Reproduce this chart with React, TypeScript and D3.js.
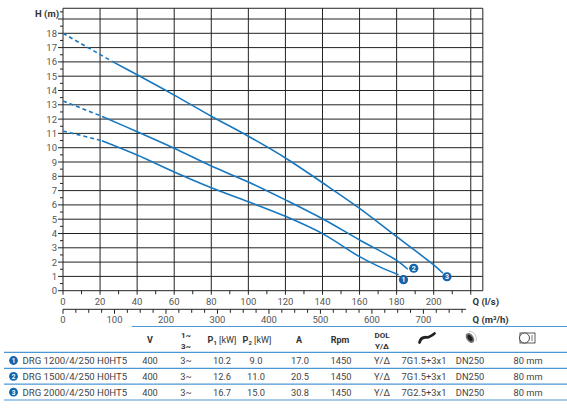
import { useEffect, useRef } from "react";
import * as d3 from "d3";

// ── chart data ─────────────────────────────────────────
const headTicks = [0, 1, 2, 3, 4, 5, 6, 7, 8, 9, 10, 11, 12, 13, 14, 15, 16, 17, 18];
const flowTicks = [0, 20, 40, 60, 80, 100, 120, 140, 160, 180, 200];
const m3hTicks = [0, 100, 200, 300, 400, 500, 600, 700];

const curve1Q = [0, 21, 40, 60, 80, 100, 120, 140, 160, 170, 181];
const curve1H = [11.17, 10.49, 9.49, 8.3, 7.2, 6.22, 5.2, 3.99, 2.38, 1.72, 1.12];
const curve2Q = [0, 22.7, 40, 60, 80, 100, 120, 140, 160, 180, 186];
const curve2H = [13.27, 12.1, 11.12, 9.96, 8.72, 7.6, 6.35, 5.03, 3.55, 2.12, 1.5];
const curve3Q = [0, 27, 40, 60, 80, 100, 120, 140, 160, 180, 200, 205];
const curve3H = [18.0, 16.0, 15.1, 13.68, 12.2, 10.8, 9.28, 7.55, 5.76, 3.78, 1.8, 1.22];
const dashedTo = [21, 22.7, 27]; // extrapolated part of each curve (l/s)

// ── table data ─────────────────────────────────────────
const models = ["DRG 1200/4/250 H0HT5", "DRG 1500/4/250 H0HT5", "DRG 2000/4/250 H0HT5"];
const volts = ["400", "400", "400"];
const phases = ["3~", "3~", "3~"];
const p1 = ["10.2", "12.6", "16.7"];
const p2 = ["9.0", "11.0", "15.0"];
const amps = ["17.0", "20.5", "30.8"];
const rpm = ["1450", "1450", "1450"];
const dol = ["Y/Δ", "Y/Δ", "Y/Δ"];
const cables = ["7G1.5+3x1", "7G1.5+3x1", "7G2.5+3x1"];
const flanges = ["DN250", "DN250", "DN250"];
const passage = ["80 mm", "80 mm", "80 mm"];

const W = 567;
const H = 409;
const BLUE = "#1777bf";
const BADGE = "#1263ab";
const LINE = "#4b97d4";
const FONT = "Roboto, 'Open Sans', Arial, sans-serif";

export default function App() {
  const svgRef = useRef<SVGSVGElement>(null);

  useEffect(() => {
    if (!svgRef.current) return;
    const svg = d3.select(svgRef.current);
    svg.selectAll("*").remove();
    svg.style("font-family", FONT);

    const x = d3.scaleLinear().domain([0, 200]).range([63, 433.7]);
    const y = d3.scaleLinear().domain([0, 18]).range([290.7, 33.3]);
    const xm = d3.scaleLinear().domain([0, 720]).range([x(0), x(200)]);
    const xRight = x(226.5);
    const yTop = y(19.75);

    const g = svg.append("g");

    // ── grid ──────────────────────────────────────────
    d3.range(0, 20).forEach(h => {
      g.append("line")
        .attr("x1", 58).attr("x2", xRight)
        .attr("y1", y(h)).attr("y2", y(h))
        .attr("stroke", "#222").attr("stroke-width", 1);
    });
    d3.range(0.5, 20, 1).forEach(h => {
      g.append("line")
        .attr("x1", 60).attr("x2", 63)
        .attr("y1", y(h)).attr("y2", y(h))
        .attr("stroke", "#222").attr("stroke-width", 1);
    });
    d3.range(0, 221, 20).forEach(q => {
      g.append("line")
        .attr("x1", x(q)).attr("x2", x(q))
        .attr("y1", yTop).attr("y2", y(0) + 4)
        .attr("stroke", "#222").attr("stroke-width", 1);
    });
    d3.range(10, 221, 20).forEach(q => {
      g.append("line")
        .attr("x1", x(q)).attr("x2", x(q))
        .attr("y1", y(0)).attr("y2", y(0) + 3.5)
        .attr("stroke", "#222").attr("stroke-width", 1);
    });
    // frame
    g.append("line").attr("x1", x(0)).attr("x2", xRight).attr("y1", yTop).attr("y2", yTop)
      .attr("stroke", "#222").attr("stroke-width", 1);
    g.append("line").attr("x1", xRight).attr("x2", xRight).attr("y1", yTop).attr("y2", y(0))
      .attr("stroke", "#222").attr("stroke-width", 1);

    // ── axis labels ───────────────────────────────────
    headTicks.forEach(h => {
      g.append("text")
        .attr("x", 57).attr("y", y(h))
        .attr("text-anchor", "end").attr("dominant-baseline", "central")
        .attr("font-size", 9.5).attr("fill", "#555")
        .text(h);
    });
    flowTicks.forEach(q => {
      g.append("text")
        .attr("x", x(q)).attr("y", 301.5)
        .attr("text-anchor", "middle").attr("dominant-baseline", "central")
        .attr("font-size", 9.5).attr("fill", "#555")
        .text(q);
    });
    g.append("text")
      .attr("x", 59).attr("y", 13).attr("text-anchor", "end").attr("dominant-baseline", "central")
      .attr("font-size", 9.5).attr("font-weight", 700).attr("fill", "#333")
      .text("H (m)");
    g.append("text")
      .attr("x", 472.5).attr("y", 301).attr("dominant-baseline", "central")
      .attr("font-size", 9.5).attr("font-weight", 700).attr("fill", "#333")
      .text("Q (l/s)");

    // second flow axis in m³/h
    const y2 = 309.3;
    g.append("line").attr("x1", xm(0)).attr("x2", xm(783)).attr("y1", y2).attr("y2", y2)
      .attr("stroke", "#222").attr("stroke-width", 1);
    d3.range(0, 776, 25).forEach(q => {
      g.append("line")
        .attr("x1", xm(q)).attr("x2", xm(q))
        .attr("y1", y2).attr("y2", y2 + (q % 100 === 0 ? 4.5 : 3.5))
        .attr("stroke", "#222").attr("stroke-width", 1);
    });
    m3hTicks.forEach(q => {
      g.append("text")
        .attr("x", xm(q)).attr("y", 319)
        .attr("text-anchor", "middle").attr("dominant-baseline", "central")
        .attr("font-size", 9.5).attr("fill", "#555")
        .text(q);
    });
    g.append("text")
      .attr("x", 472.5).attr("y", 319.5).attr("dominant-baseline", "central")
      .attr("font-size", 9.5).attr("font-weight", 700).attr("fill", "#333")
      .text("Q (m³/h)");

    // ── curves ────────────────────────────────────────
    const series = [
      { q: curve1Q, h: curve1H, dash: dashedTo[0], badge: [5, 5] },
      { q: curve2Q, h: curve2H, dash: dashedTo[1], badge: [6, -1] },
      { q: curve3Q, h: curve3H, dash: dashedTo[2], badge: [4, 3.5] },
    ];
    const line = d3.line<[number, number]>()
      .x(d => x(d[0])).y(d => y(d[1]))
      .curve(d3.curveCatmullRom.alpha(0.5));

    series.forEach((s, i) => {
      const pts = s.q.map((q, k) => [q, s.h[k]] as [number, number]);
      const dashed = pts.filter(p => p[0] <= s.dash);
      const solid = pts.filter(p => p[0] >= s.dash);
      g.append("path")
        .attr("d", line(dashed) ?? "")
        .attr("fill", "none").attr("stroke", BLUE).attr("stroke-width", 1.6)
        .attr("stroke-dasharray", "4 3");
      g.append("path")
        .attr("d", line(solid) ?? "")
        .attr("fill", "none").attr("stroke", BLUE).attr("stroke-width", 1.6);

      const end = pts[pts.length - 1];
      const bx = x(end[0]) + s.badge[0];
      const by = y(end[1]) + s.badge[1];
      g.append("circle").attr("cx", bx).attr("cy", by).attr("r", 4.6).attr("fill", BADGE);
      g.append("text")
        .attr("x", bx).attr("y", by + 0.3)
        .attr("text-anchor", "middle").attr("dominant-baseline", "central")
        .attr("font-size", 7).attr("font-weight", 700).attr("fill", "white")
        .text(i + 1);
    });

    // ── table ─────────────────────────────────────────
    const t = svg.append("g");
    t.append("line").attr("x1", 131.7).attr("x2", 567).attr("y1", 326.5).attr("y2", 326.5)
      .attr("stroke", LINE).attr("stroke-width", 1.2);
    [352.3, 368.3, 384.2, 400].forEach(ly => {
      t.append("line").attr("x1", 4).attr("x2", 567).attr("y1", ly).attr("y2", ly)
        .attr("stroke", LINE).attr("stroke-width", 1.2);
    });

    const head = (hx: number, hy: number, txt: string, size = 8.5) =>
      t.append("text")
        .attr("x", hx).attr("y", hy)
        .attr("text-anchor", "middle").attr("dominant-baseline", "central")
        .attr("font-size", size).attr("font-weight", 700).attr("fill", "#333")
        .text(txt);

    head(150, 340, "V", 9);
    head(186, 335, "1~", 8);
    head(186, 346, "3~", 8);
    head(299, 340, "A", 9);
    head(340, 340, "Rpm", 9);
    head(382, 335, "DOL", 8);
    head(382, 346, "Y/Δ", 8);

    [[222, "1"], [257, "2"]].forEach(([px, sub]) => {
      const tx = t.append("text")
        .attr("x", px).attr("y", 340)
        .attr("text-anchor", "middle").attr("dominant-baseline", "central")
        .attr("font-size", 9).attr("fill", "#333");
      tx.append("tspan").attr("font-weight", 700).text("P");
      tx.append("tspan").attr("font-weight", 700).attr("font-size", 6).attr("dy", 2).text(sub as string);
      tx.append("tspan").attr("dy", -2).text(" [kW]");
    });

    // cable icon
    t.append("path")
      .attr("d", "M419.5,342.5 C420.5,338.5 423,337 426.5,337.3 C429.5,337.6 431.5,336 434.5,333.5")
      .attr("fill", "none").attr("stroke", "#222").attr("stroke-width", 2.8).attr("stroke-linecap", "round");
    // flange icon
    const fl = t.append("g").attr("transform", "translate(470,338) rotate(-35)");
    fl.append("ellipse").attr("rx", 3.6).attr("ry", 5.5).attr("fill", "#777");
    fl.append("ellipse").attr("rx", 2).attr("ry", 3.6).attr("fill", "#222");
    fl.append("path").attr("d", "M3,-6 C7,-4 7,4 3,6").attr("fill", "none").attr("stroke", "#bbb").attr("stroke-width", 0.8);
    // free passage icon
    t.append("rect").attr("x", 520).attr("y", 333).attr("width", 15).attr("height", 10)
      .attr("fill", "none").attr("stroke", "#333").attr("stroke-width", 0.8);
    t.append("circle").attr("cx", 524.5).attr("cy", 338).attr("r", 5)
      .attr("fill", "white").attr("stroke", "#333").attr("stroke-width", 0.9);
    t.append("line").attr("x1", 532).attr("x2", 532).attr("y1", 335).attr("y2", 341)
      .attr("stroke", "#333").attr("stroke-width", 0.7);

    const rowY = [360.5, 376.3, 392.2];
    const cols: [number, string[]][] = [
      [150, volts], [186, phases], [222, p1], [256, p2], [300, amps],
      [341, rpm], [382, dol], [424, cables], [470, flanges], [528, passage],
    ];
    models.forEach((m, i) => {
      const ry = rowY[i];
      t.append("circle").attr("cx", 13.5).attr("cy", ry).attr("r", 4.4).attr("fill", BADGE);
      t.append("text")
        .attr("x", 13.5).attr("y", ry + 0.3)
        .attr("text-anchor", "middle").attr("dominant-baseline", "central")
        .attr("font-size", 6.5).attr("font-weight", 700).attr("fill", "white")
        .text(i + 1);
      t.append("text")
        .attr("x", 22.5).attr("y", ry)
        .attr("dominant-baseline", "central")
        .attr("font-size", 9.6).attr("fill", "#444")
        .text(m);
      cols.forEach(([cx, vals]) => {
        t.append("text")
          .attr("x", cx).attr("y", ry)
          .attr("text-anchor", "middle").attr("dominant-baseline", "central")
          .attr("font-size", 9.3).attr("fill", "#444")
          .text(vals[i]);
      });
    });
  }, []);

  return (
    <svg
      ref={svgRef}
      width={W}
      height={H}
      style={{ position: "absolute", left: 0, top: 0, background: "white" }}
    />
  );
}
